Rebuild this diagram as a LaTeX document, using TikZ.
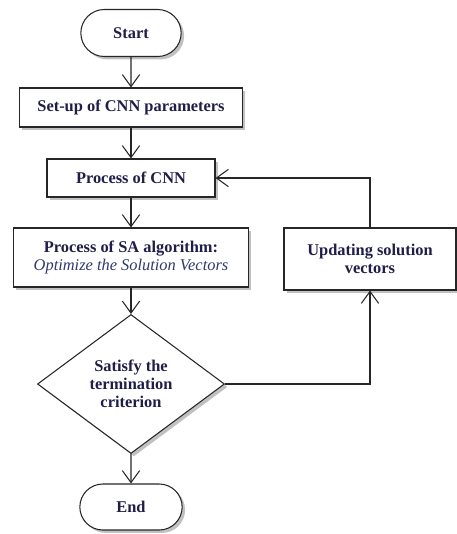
\documentclass[tikz,border=0pt]{standalone}
\usepackage{fontspec}
\setmainfont{Liberation Serif}
\usepackage{xcolor}
\usetikzlibrary{arrows.meta, positioning, shapes.geometric, shapes.misc, shadows}
\definecolor{inkb}{RGB}{32,30,72}
\definecolor{inki}{RGB}{48,58,112}
\tikzset{
  blk/.style={rectangle, line width=0.9pt, draw=black!85, fill=white, align=center,
              font=\bfseries\fontsize{14}{15.5}\selectfont, text=inkb, inner sep=2pt,
              drop shadow={shadow xshift=2.5pt, shadow yshift=-2.5pt, opacity=0.35, fill=black!70}},
  termb/.style={blk, rounded rectangle},
  procb/.style={blk},
  decb/.style={blk, diamond, aspect=1.35, inner sep=0pt},
  pipe/.style={-{Straight Barb[length=3.6mm, width=5.2mm]}, line width=0.9pt, draw=black!85},
}
\begin{document}
\begin{tikzpicture}[x=0.03cm, y=-0.03cm]
  \useasboundingbox (0,0) rectangle (457,534);
  \node[termb, minimum width=3.15cm, minimum height=1.41cm] (start) at (131,33)   {Start};
  \node[procb, minimum width=6.69cm, minimum height=1.17cm] (setup) at (131,107.5) {Set-up of CNN parameters};
  \node[procb, minimum width=5.04cm, minimum height=1.14cm] (cnn)   at (131,178)   {Process of CNN};
  \node[procb, minimum width=7.05cm, minimum height=1.77cm] (sa)    at (131,257.5) {Process of SA algorithm:\\{\mdseries\itshape\color{inki}Optimize the Solution Vectors}};
  \node[procb, minimum width=5.16cm, minimum height=1.86cm] (upd)   at (370,259)   {Updating solution\\vectors};
  \node[decb, minimum width=5.61cm, minimum height=4.17cm]  (dec)   at (131,384)   {Satisfy the\\termination\\criterion};
  \node[termb, minimum width=3.21cm, minimum height=1.38cm] (end)   at (131,507)   {End};
  \draw[pipe] (start) -- (setup); \draw[pipe] (setup) -- (cnn); \draw[pipe] (cnn) -- (sa);
  \draw[pipe] (sa) -- (dec); \draw[pipe] (dec) -- (end);
  \draw[pipe] (upd.north) |- (cnn.east);
  \draw[pipe] (dec.east) -| (upd.south);
\end{tikzpicture}
\end{document}
